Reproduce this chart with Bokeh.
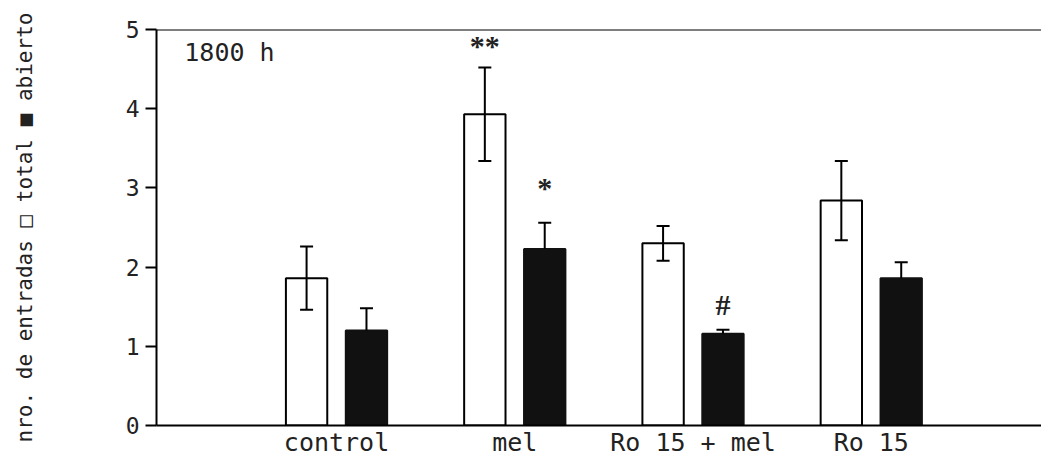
from bokeh.plotting import figure
from bokeh.models import Range1d, Whisker, ColumnDataSource, FixedTicker, Span, TeeHead, LabelSet, Label
from bokeh.embed import file_html
from bokeh.resources import INLINE

groups = ["control", "mel", "Ro 15 + mel", "Ro 15"]
total_mean = [1.86, 3.93, 2.30, 2.84]
total_se = [0.40, 0.59, 0.22, 0.50]
abierto_mean = [1.20, 2.23, 1.16, 1.86]
abierto_se = [0.28, 0.33, 0.05, 0.20]
total_marks = ["", "**", "", ""]
abierto_marks = ["", "*", "#", ""]
y_ticks = [0, 1, 2, 3, 4, 5]
panel_label = "1800 h"
y_label = "nro. de entradas \u25a1 total \u25a0 abierto"

FONT = "DejaVu Sans Mono"
OFF = 0.168
W = 0.232
MARK_OFFSET = {"": 0, "**": 22, "*": 35, "#": 25}

pos = [i + 1 for i in range(len(groups))]

def make_src(means, ses, marks, off, two_sided):
    return ColumnDataSource(dict(
        x=[p + off for p in pos],
        top=means,
        upper=[m + s for m, s in zip(means, ses)],
        lower=[(m - s) if two_sided else m for m, s in zip(means, ses)],
        mark=marks,
        yoff=[MARK_OFFSET[k] for k in marks],
    ))

src_t = make_src(total_mean, total_se, total_marks, -OFF, True)
src_a = make_src(abierto_mean, abierto_se, abierto_marks, OFF, False)

p = figure(frame_width=885, frame_height=396, output_backend="svg", toolbar_location=None,
           x_range=Range1d(-0.01, 4.955), y_range=Range1d(0, 5),
           min_border_left=156, min_border_top=29, min_border_right=0, min_border_bottom=33)
p.outline_line_color = None
p.xgrid.visible = False
p.ygrid.visible = False
p.background_fill_color = "white"
p.border_fill_color = "white"

p.vbar(x="x", top="top", bottom=0, width=W, source=src_t, fill_color="white",
       line_color="black", line_width=2)
p.vbar(x="x", top="top", bottom=0, width=W, source=src_a, fill_color="#111111",
       line_color="#111111", line_width=2)

for s, two in ((src_t, True), (src_a, False)):
    wk = Whisker(base="x", upper="upper", lower="lower", source=s, line_color="black", line_width=2,
                 level="annotation",
                 upper_head=TeeHead(size=13, line_width=2, line_color="black"),
                 lower_head=TeeHead(size=13, line_width=2, line_color="black") if two else None)
    p.add_layout(wk)
    ls = LabelSet(x="x", y="upper", text="mark", source=s, text_align="center",
                  text_baseline="middle", y_offset="yoff", text_font=FONT,
                  text_font_size="30px", text_font_style="bold", text_color="#222222")
    p.add_layout(ls)

p.add_layout(Span(location=5, dimension="width", line_color="black", line_width=2))

p.add_layout(Label(x=0.146, y=4.895, text=panel_label, text_font=FONT, text_font_size="25px",
                   text_baseline="top", text_align="left", text_color="#222222"))

# x axis
p.xaxis.ticker = FixedTicker(ticks=pos)
p.xaxis.major_label_overrides = {pp: g for pp, g in zip(pos, groups)}
p.xaxis.major_tick_line_color = None
p.xaxis.minor_tick_line_color = None
p.xaxis.axis_line_width = 2
p.xaxis.axis_line_color = "black"
p.xaxis.major_label_text_font = FONT
p.xaxis.major_label_text_font_size = "25px"
p.xaxis.major_label_text_color = "#222222"
p.xaxis.major_label_standoff = -4

# y axis
p.yaxis.ticker = FixedTicker(ticks=y_ticks)
p.yaxis.minor_tick_line_color = None
p.yaxis.major_tick_in = 0
p.yaxis.major_tick_out = 11
p.yaxis.major_tick_line_width = 2
p.yaxis.axis_line_width = 2
p.yaxis.axis_line_color = "black"
p.yaxis.major_label_text_font = FONT
p.yaxis.major_label_text_font_size = "23px"
p.yaxis.major_label_text_color = "#222222"
p.yaxis.major_label_standoff = 6
p.yaxis.axis_label = y_label
p.yaxis.axis_label_text_font = FONT
p.yaxis.axis_label_text_font_size = "21px"
p.yaxis.axis_label_text_font_style = "normal"
p.yaxis.axis_label_text_color = "#222222"
p.yaxis.axis_label_standoff = 86

open("out.html", "w").write(file_html(p, INLINE))
